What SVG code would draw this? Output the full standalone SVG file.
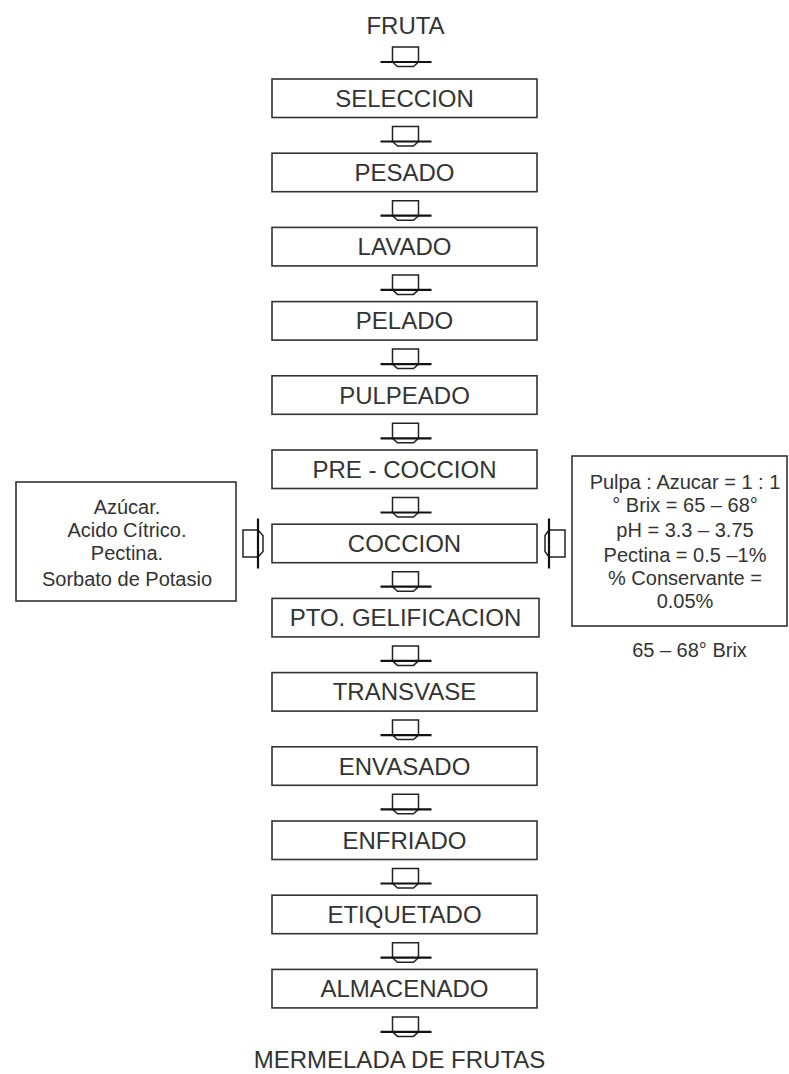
<svg xmlns="http://www.w3.org/2000/svg" xmlns:xlink="http://www.w3.org/1999/xlink" width="789" height="1074" viewBox="0 0 789 1074">
<style>
.box{fill:#fff;stroke:#333;stroke-width:1.6}
.t{font-family:"Liberation Sans",Arial,sans-serif;font-size:24px;fill:#333;text-anchor:middle}
.s{font-family:"Liberation Sans",Arial,sans-serif;font-size:20px;fill:#333;text-anchor:middle}
.sh{fill:#fff;stroke:#222;stroke-width:1.5}
.wing{stroke:#111;stroke-width:2.2;fill:none}
</style>
<defs>
<g id="dn">
<path class="sh" d="M-13,15 V0 H13 V15 L8,19.5 H-8 Z"/>
<path class="wing" d="M-25,15 H26"/>
</g>
<g id="rt">
<path class="sh" d="M0,-13.5 H15 V-12 M0,-13.5 V13.5 H15 L20,8 V-8 L15,-13.5 Z"/>
<path class="wing" d="M15,-25 V25"/>
</g>
<g id="lf">
<path class="sh" d="M0,-13.5 H-16 L-20,-8 V8 L-16,13.5 H0 Z"/>
<path class="wing" d="M-16,-25 V25"/>
</g>
</defs>
<g id="connectors">
<use xlink:href="#dn" transform="translate(405.5,47)"/>
<use xlink:href="#dn" transform="translate(405.5,126.5)"/>
<use xlink:href="#dn" transform="translate(405.5,200.7)"/>
<use xlink:href="#dn" transform="translate(405.5,274.9)"/>
<use xlink:href="#dn" transform="translate(405.5,349.1)"/>
<use xlink:href="#dn" transform="translate(405.5,423.3)"/>
<use xlink:href="#dn" transform="translate(405.5,497.5)"/>
<use xlink:href="#dn" transform="translate(405.5,571.7)"/>
<use xlink:href="#dn" transform="translate(405.5,645.9)"/>
<use xlink:href="#dn" transform="translate(405.5,720.1)"/>
<use xlink:href="#dn" transform="translate(405.5,794.3)"/>
<use xlink:href="#dn" transform="translate(405.5,868.5)"/>
<use xlink:href="#dn" transform="translate(405.5,942.7)"/>
<use xlink:href="#dn" transform="translate(405.5,1016.9)"/>
<use xlink:href="#rt" transform="translate(243,543.5)"/>
<use xlink:href="#lf" transform="translate(565,543.5)"/>
</g>
<g id="fruta"><text class="t" x="405.5" y="34">FRUTA</text></g>
<g id="n0"><rect class="box" x="272" y="79" width="265" height="38.5"/><text class="t" x="404.5" y="106.8">SELECCION</text></g>
<g id="n1"><rect class="box" x="272" y="153.2" width="265" height="38.5"/><text class="t" x="404.5" y="181">PESADO</text></g>
<g id="n2"><rect class="box" x="272" y="227.4" width="265" height="38.5"/><text class="t" x="404.5" y="255.2">LAVADO</text></g>
<g id="n3"><rect class="box" x="272" y="301.6" width="265" height="38.5"/><text class="t" x="404.5" y="329.4">PELADO</text></g>
<g id="n4"><rect class="box" x="272" y="375.8" width="265" height="38.5"/><text class="t" x="404.5" y="403.6">PULPEADO</text></g>
<g id="n5"><rect class="box" x="272" y="450" width="265" height="38.5"/><text class="t" x="404.5" y="477.8">PRE - COCCION</text></g>
<g id="n6"><rect class="box" x="272" y="524.2" width="265" height="38.5"/><text class="t" x="404.5" y="552">COCCION</text></g>
<g id="n7"><rect class="box" x="272" y="598.4" width="267" height="38.5"/><text class="t" x="405.5" y="626.2">PTO. GELIFICACION</text></g>
<g id="n8"><rect class="box" x="272" y="672.6" width="265" height="38.5"/><text class="t" x="404.5" y="700.4">TRANSVASE</text></g>
<g id="n9"><rect class="box" x="272" y="746.8" width="265" height="38.5"/><text class="t" x="404.5" y="774.6">ENVASADO</text></g>
<g id="n10"><rect class="box" x="272" y="821" width="265" height="38.5"/><text class="t" x="404.5" y="848.8">ENFRIADO</text></g>
<g id="n11"><rect class="box" x="272" y="895.2" width="265" height="38.5"/><text class="t" x="404.5" y="923">ETIQUETADO</text></g>
<g id="n12"><rect class="box" x="272" y="969.4" width="265" height="38.5"/><text class="t" x="404.5" y="997.2">ALMACENADO</text></g>
<g id="mermelada"><text class="t" x="399.5" y="1068">MERMELADA DE FRUTAS</text></g>
<g id="left">
<rect class="box" x="16" y="482" width="220" height="119"/>
<text class="s" x="127" y="514">Azúcar.</text>
<text class="s" x="127" y="537">Acido Cítrico.</text>
<text class="s" x="127" y="560">Pectina.</text>
<text class="s" x="127" y="586">Sorbato de Potasio</text>
</g>
<g id="right">
<rect class="box" x="572" y="456" width="215" height="170"/>
<text class="s" x="685" y="489">Pulpa : Azucar = 1 : 1</text>
<text class="s" x="685" y="512">° Brix = 65 – 68°</text>
<text class="s" x="685" y="537">pH = 3.3 – 3.75</text>
<text class="s" x="685" y="562">Pectina = 0.5 –1%</text>
<text class="s" x="685" y="585">% Conservante =</text>
<text class="s" x="685" y="608">0.05%</text>
</g>
<g id="brix"><text class="s" x="689.5" y="657">65 – 68° Brix</text></g>
</svg>
